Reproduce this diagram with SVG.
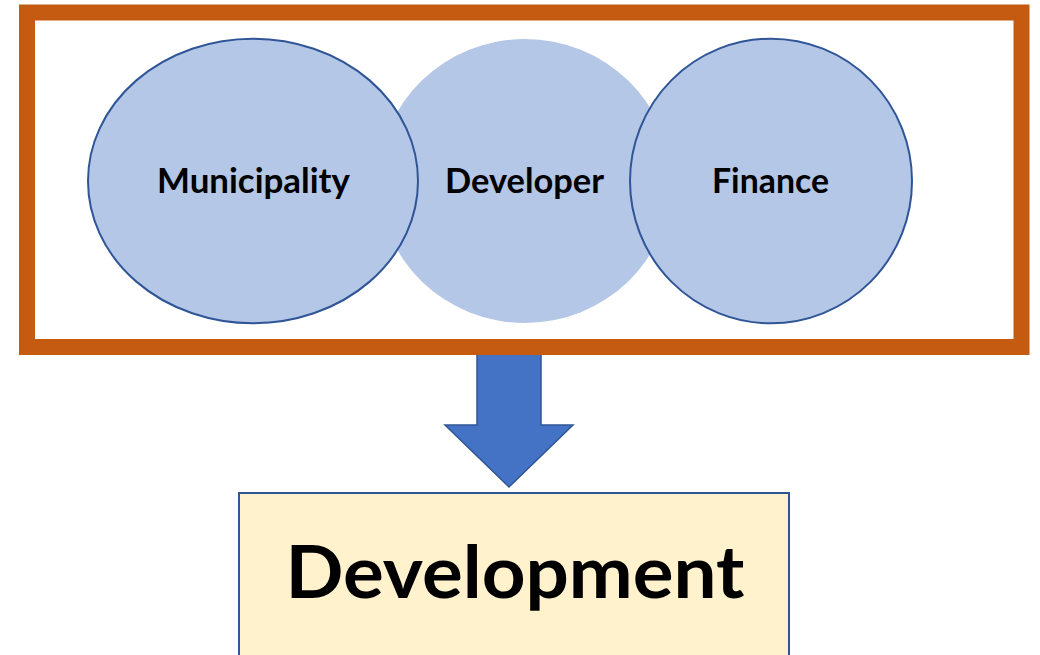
<svg xmlns="http://www.w3.org/2000/svg" width="1040" height="655" viewBox="0 0 1040 655">
  <style>
    .frame { fill: none; stroke: #C55A11; stroke-width: 16; }
    .party { fill: #B4C7E7; stroke: #2F5597; stroke-width: 2; }
    .party-plain { fill: #B4C7E7; stroke: none; }
    .label { font-family: Lato, "Open Sans", "DejaVu Sans", sans-serif; font-weight: bold; fill: #000; text-anchor: middle; }
    .small { font-size: 34px; }
    .big { font-size: 72px; }
    .arrow { fill: #4472C4; stroke: #2F5597; stroke-width: 1.5; }
    .result { fill: #FFF2CC; stroke: #2F5597; stroke-width: 2; }
  </style>

  <rect width="1040" height="655" fill="#FFFFFF"/>

  <!-- connector: block arrow from the partner frame down to the outcome -->
  <g id="connectors">
    <path class="arrow" d="M477,352 L541,352 L541,425 L573,425 L509,487 L445,425 L477,425 Z"/>
  </g>

  <!-- partner frame -->
  <g id="frame">
    <rect class="frame" x="27" y="12.5" width="994.5" height="334.5"/>
  </g>

  <g id="developer">
    <ellipse class="party-plain" cx="525" cy="181" rx="146" ry="142"/>
    <text class="label small" x="524.5" y="193" textLength="159" lengthAdjust="spacingAndGlyphs">Developer</text>
  </g>

  <g id="municipality">
    <ellipse class="party" cx="253" cy="181" rx="165" ry="142.3"/>
    <text class="label small" x="253.5" y="193" textLength="193" lengthAdjust="spacingAndGlyphs">Municipality</text>
  </g>

  <g id="finance">
    <ellipse class="party" cx="771" cy="181" rx="141" ry="142.3"/>
    <text class="label small" x="770.5" y="193" textLength="117" lengthAdjust="spacingAndGlyphs">Finance</text>
  </g>

  <g id="development">
    <rect class="result" x="239" y="493" width="550" height="180"/>
    <text class="label big" x="515" y="598" textLength="459" lengthAdjust="spacingAndGlyphs">Development</text>
  </g>
</svg>
